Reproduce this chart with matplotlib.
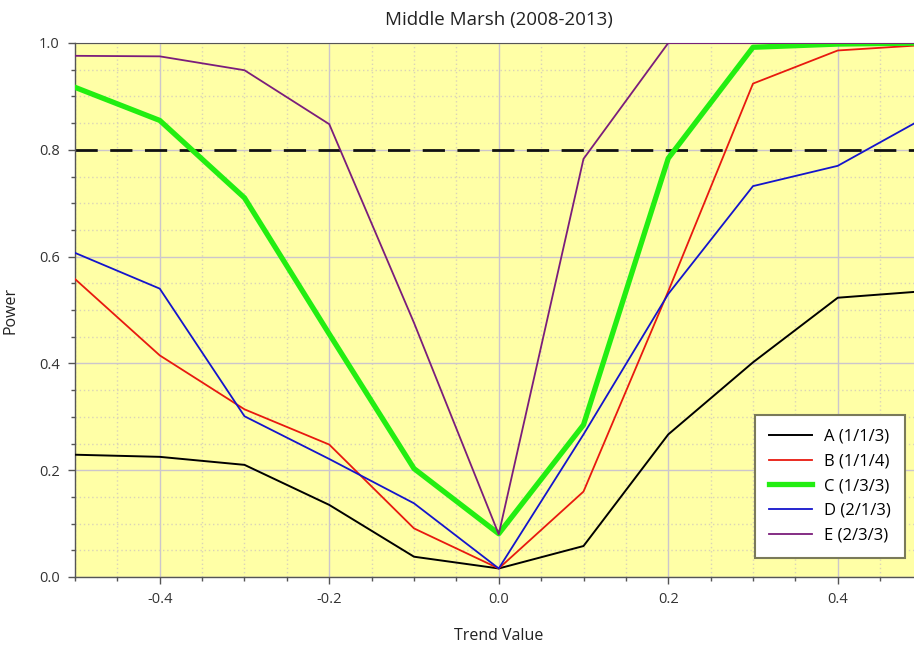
import matplotlib
matplotlib.use("Agg")
import matplotlib.pyplot as plt
from matplotlib.ticker import MultipleLocator

plt.rcParams['font.family'] = ['Open Sans', 'DejaVu Sans']

trend = [-0.5, -0.4, -0.3, -0.2, -0.1, 0.0, 0.1, 0.2, 0.3, 0.4, 0.5]
power_a = [0.229, 0.225, 0.210, 0.135, 0.038, 0.016, 0.058, 0.267, 0.402, 0.523, 0.535]
power_b = [0.558, 0.415, 0.314, 0.248, 0.091, 0.016, 0.160, 0.535, 0.924, 0.986, 0.996]
power_c = [0.917, 0.855, 0.710, 0.455, 0.203, 0.081, 0.285, 0.784, 0.992, 0.998, 1.000]
power_d = [0.607, 0.540, 0.301, 0.221, 0.138, 0.016, 0.267, 0.530, 0.732, 0.770, 0.858]
power_e = [0.976, 0.975, 0.949, 0.848, 0.476, 0.080, 0.783, 1.000, 1.000, 1.000, 1.000]
labels = ["A (1/1/3)", "B (1/1/4)", "C (1/3/3)", "D (2/1/3)", "E (2/3/3)"]
threshold = 0.8

fig = plt.figure(figsize=(9.14, 6.45), dpi=100)
ax = fig.add_axes([75/914, 68/645, 847.5/914, 534/645])
ax.set_facecolor('#FFFFA6')

series = [power_a, power_b, power_c, power_d, power_e]
colors = ['#000000', '#E8190F', '#22EE11', '#1414CC', '#7B1D7B']
widths = [1.4, 1.3, 3.8, 1.3, 1.3]
for y, c, w, lab in zip(series, colors, widths, labels):
    ax.plot(trend, y, color=c, lw=w, label=lab, zorder=3)

ax.axhline(threshold, color='#111111', lw=2.0, dashes=(8, 4.5), zorder=2.5)

ax.set_xlim(-0.5, 0.5)
ax.set_ylim(0.0, 1.0)
ax.xaxis.set_major_locator(MultipleLocator(0.2))
ax.xaxis.set_minor_locator(MultipleLocator(0.05))
ax.yaxis.set_major_locator(MultipleLocator(0.2))
ax.yaxis.set_minor_locator(MultipleLocator(0.05))
ax.set_xticks([-0.4, -0.2, 0.0, 0.2, 0.4])
ax.set_xticklabels(['-0.4', '-0.2', '0.0', '0.2', '0.4'])
ax.set_yticks([0.0, 0.2, 0.4, 0.6, 0.8, 1.0])
ax.set_yticklabels(['0.0', '0.2', '0.4', '0.6', '0.8', '1.0'])

ax.grid(True, which='major', color='#CCC6CC', lw=1.0, zorder=1)
ax.grid(True, which='minor', color='#DAD3B8', lw=1.0, ls=(0, (1, 2)), zorder=1)
ax.set_axisbelow(True)

ax.tick_params(axis='both', which='major', direction='out', length=5, width=1,
               color='#555555', labelsize=10.5, labelcolor='#333333', pad=6)
ax.tick_params(axis='both', which='minor', direction='out', length=3, width=1,
               color='#555555')

for side in ['left', 'bottom']:
    ax.spines[side].set_color('#555555')
    ax.spines[side].set_linewidth(1.0)
ax.spines['top'].set_color('#555555')
ax.spines['right'].set_visible(False)

ax.set_xlabel('Trend Value', fontsize=11.5, color='#222222', labelpad=15)
ax.set_ylabel('Power', fontsize=11.5, color='#222222')
ax.yaxis.set_label_coords(-0.067, 0.5)
ax.set_title('Middle Marsh (2008-2013)', fontsize=13.5, color='#222222', pad=13)

leg = ax.legend(loc='lower right', bbox_to_anchor=(0.979, 0.036), fontsize=12,
                frameon=True, fancybox=False, handlelength=2.6, handletextpad=0.7,
                borderpad=0.85, labelspacing=0.52, borderaxespad=0)
leg.get_frame().set_edgecolor('#7A7A5A')
leg.get_frame().set_linewidth(1.5)
leg.get_frame().set_facecolor('white')
leg.get_frame().set_alpha(1)

fig.savefig('out.png', dpi=100, facecolor='white')
